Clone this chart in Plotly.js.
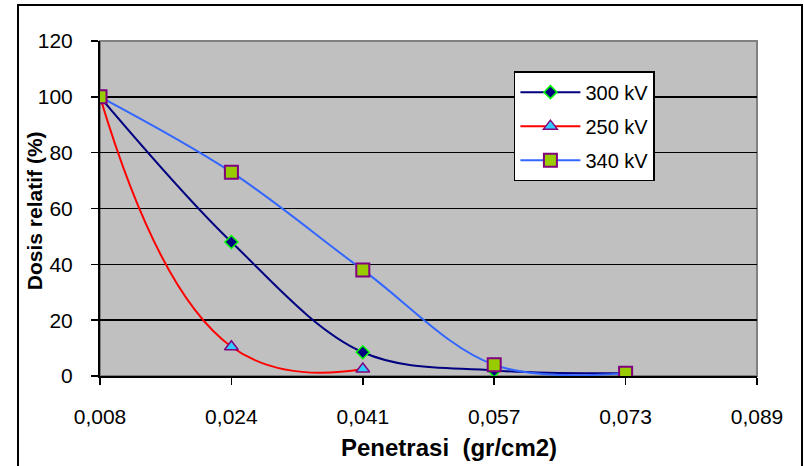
<!DOCTYPE html>
<html>
<head>
<meta charset="utf-8">
<script src="https://cdn.plot.ly/plotly-3.0.1.min.js"></script>
<style>
  html, body { margin: 0; padding: 0; background: #fff; }
  #chart { width: 804px; height: 466px; }
</style>
</head>
<body>
<div id="chart"></div>
<script>
// Data
const categories = ['0,008', '0,024', '0,041', '0,057', '0,073', '0,089'];
const seriesNames = ['300 kV', '250 kV', '340 kV'];
const values300 = [100, 48, 8.5, 2, 1];
const values250 = [100, 10.5, 2.5];
const values340 = [100, 73, 38, 4, 1];
const yTicks = [0, 20, 40, 60, 80, 100, 120];
const xTitle = 'Penetrasi\u00a0 (gr/cm2)';
const yTitle = 'Dosis relatif (%)';

const FONT = 'Liberation Sans, Arial, sans-serif';

function xs(vals) { return categories.slice(0, vals.length); }

const traces = [
  {
    name: seriesNames[0], x: xs(values300), y: values300,
    type: 'scatter', mode: 'lines+markers', legendgroup: 'a',
    line: { color: '#000080', width: 2, shape: 'spline', smoothing: 1 },
    marker: { symbol: 'diamond', size: 10, color: '#000080', line: { color: '#00FF00', width: 1.5 } }
  },
  {
    name: seriesNames[1], x: xs(values250), y: values250,
    type: 'scatter', mode: 'lines+markers', legendgroup: 'b',
    line: { color: '#FF0000', width: 2, shape: 'spline', smoothing: 1.3 },
    marker: { symbol: 'triangle-up', size: 12, color: '#33CCFF', line: { color: '#800080', width: 1.5 } }
  },
  {
    name: seriesNames[2], x: xs(values340), y: values340,
    type: 'scatter', mode: 'lines+markers', legendgroup: 'c',
    line: { color: '#3366FF', width: 2, shape: 'spline', smoothing: 1 },
    marker: { symbol: 'square', size: 13, color: '#99CC00', line: { color: '#800080', width: 2 } }
  }
];

const layout = {
  width: 804, height: 466,
  margin: { l: 100, r: 47, t: 41, b: 90 },
  paper_bgcolor: '#FFFFFF',
  plot_bgcolor: '#C0C0C0',
  font: { family: FONT, color: '#000000', size: 20 },
  showlegend: true,
  legend: {
    x: 0.630, y: 0.910, xanchor: 'left', yanchor: 'top',
    bgcolor: '#FFFFFF', bordercolor: '#000000', borderwidth: 1.5,
    font: { family: FONT, size: 20, color: '#000000' },
    tracegroupgap: 5, itemwidth: 60, traceorder: 'grouped'
  },
  xaxis: {
    type: 'category',
    categoryorder: 'array', categoryarray: categories,
    range: [0, categories.length - 1],
    showgrid: false, zeroline: false,
    showline: true, linecolor: '#000000', linewidth: 2,
    ticks: 'outside', ticklen: 7, tickwidth: 1.5, tickcolor: '#000000',
    ticklabelstandoff: 14,
    tickfont: { family: FONT, size: 21, color: '#000000' }
  },
  yaxis: {
    range: [0, 120], tickvals: yTicks, ticktext: yTicks.map(String),
    showgrid: true, gridcolor: '#000000', gridwidth: 1.5,
    zeroline: false,
    showline: true, linecolor: '#000000', linewidth: 2,
    ticks: 'outside', ticklen: 7, tickwidth: 1.5, tickcolor: '#000000',
    ticklabelstandoff: 14,
    tickfont: { family: FONT, size: 21, color: '#000000' }
  },
  annotations: [
    { text: xTitle, xref: 'paper', yref: 'paper', x: 0.531, y: -0.212,
      xanchor: 'center', yanchor: 'middle', showarrow: false,
      font: { family: FONT, size: 24, color: '#000000', weight: 'bold' } },
    { text: yTitle, xref: 'paper', yref: 'paper', x: -0.1005, y: 0.495,
      xanchor: 'center', yanchor: 'middle', showarrow: false, textangle: -90,
      font: { family: FONT, size: 21, color: '#000000', weight: 'bold' } }
  ],
  shapes: [
    { type: 'rect', xref: 'paper', yref: 'paper', x0: 0, x1: 1, y0: 0, y1: 1,
      line: { color: '#808080', width: 2 }, layer: 'below' },
    { type: 'rect', xref: 'paper', yref: 'paper', x0: -0.1248, x1: 1.0685, y0: -0.30, y1: 1.1075,
      line: { color: '#000000', width: 2 }, layer: 'below' }
  ]
};

Plotly.newPlot('chart', traces, layout, { displayModeBar: false, staticPlot: true });
</script>
</body>
</html>
